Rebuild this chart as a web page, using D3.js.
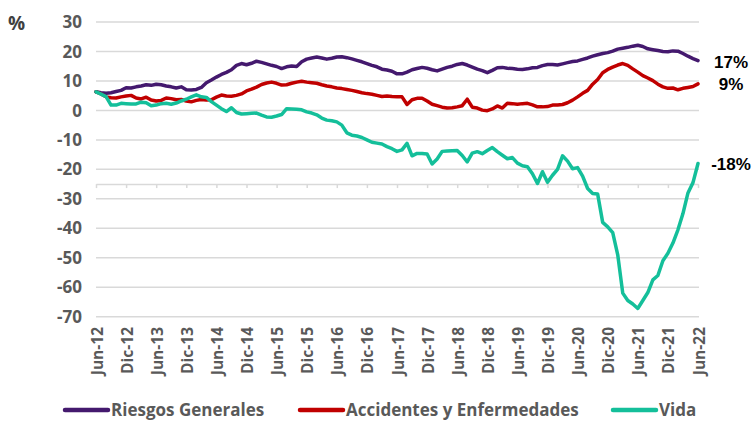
<!DOCTYPE html>
<html>
<head>
<meta charset="utf-8">
<script src="https://cdn.jsdelivr.net/npm/d3@7"></script>
<style>
  body { margin: 0; background: #fff; }
  svg { display: block; }
  .lbl { font-family: "Open Sans", sans-serif; font-weight: 700; fill: #595959; }
  .end { font-family: "Liberation Sans", Arial, sans-serif; font-weight: 700; fill: #000; }
</style>
</head>
<body>
<svg id="chart" width="756" height="422"></svg>
<script>
// meses de jun-12 a jun-22 (121 observaciones)
const monthNames = ["Ene", "Feb", "Mar", "Abr", "May", "Jun", "Jul", "Ago", "Sep", "Oct", "Nov", "Dic"];
const startYear = 2012, startMonth = 5, nMonths = 121;

const tickLabels = ["Jun-12", "Dic-12", "Jun-13", "Dic-13", "Jun-14", "Dic-14", "Jun-15", "Dic-15", "Jun-16", "Dic-16",
  "Jun-17", "Dic-17", "Jun-18", "Dic-18", "Jun-19", "Dic-19", "Jun-20", "Dic-20", "Jun-21", "Dic-21", "Jun-22"];

const yTicks = [30, 20, 10, 0, -10, -20, -30, -40, -50, -60, -70];

const riesgosGenerales = [
  6.3, 6.0, 5.8, 6.0, 6.4, 6.8, 7.7, 7.6, 8.0, 8.3, 8.7, 8.5,
  8.9, 8.7, 8.3, 8.0, 7.6, 8.0, 7.0, 6.9, 7.1, 7.8, 9.4, 10.3,
  11.3, 12.2, 12.9, 13.8, 15.3, 15.9, 15.5, 16.0, 16.7, 16.3, 15.8, 15.3,
  14.9, 14.2, 14.8, 15.1, 14.9, 16.5, 17.4, 17.8, 18.1, 17.8, 17.4, 17.7,
  18.1, 18.2, 17.9, 17.5, 17.0, 16.5, 15.9, 15.3, 14.8, 14.0, 13.7, 13.3,
  12.4, 12.4, 13.0, 13.8, 14.2, 14.6, 14.3, 13.8, 13.4, 14.0, 14.6, 15.0,
  15.6, 15.9, 15.4, 14.7, 14.0, 13.5, 12.8, 13.6, 14.5, 14.6, 14.3, 14.2,
  14.0, 13.9, 14.1, 14.5, 14.6, 15.2, 15.6, 15.6, 15.4, 15.8, 16.2, 16.6,
  16.8, 17.3, 17.8, 18.4, 18.9, 19.3, 19.6, 20.1, 20.8, 21.1, 21.4, 21.8,
  22.1, 21.7, 20.9, 20.6, 20.3, 20.0, 19.9, 20.2, 20.1, 19.3, 18.4, 17.6,
  16.9
];

const accidentesEnfermedades = [
  6.3, 5.6, 4.6, 4.3, 4.2, 4.6, 4.9, 5.1, 4.2, 3.9, 4.5, 3.5,
  3.2, 3.4, 4.2, 4.0, 3.6, 3.7, 3.2, 2.9, 3.4, 3.7, 3.5, 3.6,
  4.5, 5.2, 4.9, 4.8, 5.1, 5.6, 6.6, 7.2, 7.9, 8.8, 9.3, 9.6,
  9.2, 8.6, 8.7, 9.2, 9.6, 9.9, 9.6, 9.4, 9.2, 8.7, 8.3, 8.0,
  7.6, 7.4, 7.1, 6.8, 6.4, 6.0, 5.7, 5.5, 5.1, 4.7, 4.9, 4.7,
  4.6, 4.6, 2.0, 3.6, 4.1, 4.1, 3.2, 2.1, 1.6, 1.1, 0.8, 0.9,
  1.2, 1.6, 3.8, 1.1, 0.8, 0.1, -0.1, 0.5, 1.5, 0.8, 2.4, 2.3,
  2.1, 2.3, 2.4, 1.9, 1.2, 1.2, 1.3, 1.8, 1.8, 2.0, 2.6, 3.5,
  4.6, 5.8, 6.8, 8.9, 10.5, 12.8, 13.9, 14.7, 15.4, 15.9, 15.3, 14.1,
  13.0, 11.8, 11.0, 10.1, 8.9, 8.0, 7.5, 7.6, 7.0, 7.5, 7.8, 8.1,
  9.0
];

const vida = [
  6.3, 5.5, 4.7, 1.8, 1.8, 2.4, 2.3, 2.2, 2.2, 2.8, 2.6, 1.6,
  1.8, 2.3, 2.4, 2.1, 2.5, 3.2, 3.8, 4.6, 5.3, 4.6, 4.4, 3.0,
  1.8, 0.6, -0.4, 0.9, -0.7, -1.2, -1.1, -1.0, -0.9, -1.6, -2.2, -2.3,
  -1.9, -1.4, 0.6, 0.5, 0.4, 0.2, -0.5, -0.9, -1.5, -2.6, -3.3, -3.5,
  -3.9, -5.0, -7.6, -8.4, -8.7, -9.2, -10.0, -10.8, -11.1, -11.4, -12.3, -13.0,
  -13.9, -13.4, -11.2, -15.4, -14.6, -14.6, -14.8, -18.2, -16.5, -13.9, -13.8, -13.7,
  -13.6, -15.3, -17.5, -14.5, -14.0, -14.7, -13.6, -12.6, -14.0, -15.2, -16.4, -16.0,
  -17.9, -18.8, -19.1, -21.5, -24.8, -20.8, -24.4, -22.0, -20.0, -15.4, -17.2, -19.8,
  -19.4, -22.3, -26.5, -28.2, -28.4, -38.0, -39.5, -41.5, -49.0, -62.0, -64.5, -65.7,
  -67.2, -64.5, -61.8, -57.5, -56.0, -51.0, -48.5, -45.0, -40.5, -35.0, -28.0, -24.5,
  -18.0
];

const seriesNames = ["Riesgos Generales", "Accidentes y Enfermedades", "Vida"];
const seriesColors = ["#44196E", "#C00000", "#14BF9A"];
const endLabels = ["17%", "9%", "-18%"];

const categories = d3.range(nMonths).map(i => {
  const t = startMonth + i;
  return monthNames[t % 12] + "-" + String((startYear + Math.floor(t / 12)) % 100).padStart(2, "0");
});

const series = [riesgosGenerales, accidentesEnfermedades, vida].map((values, k) => ({
  name: seriesNames[k],
  color: seriesColors[k],
  label: endLabels[k],
  values: values.map((v, i) => ({ cat: categories[i], v }))
}));

const svg = d3.select("#chart");
const x = d3.scalePoint().domain(categories).range([96, 698]);
const y = d3.scaleLinear().domain([-70, 30]).range([316.7, 22]);

// rejilla horizontal
svg.append("g")
  .selectAll("line")
  .data(yTicks)
  .join("line")
  .attr("x1", 96).attr("x2", 699)
  .attr("y1", d => y(d)).attr("y2", d => y(d))
  .attr("stroke", "#d9d9d9")
  .attr("stroke-width", 1.5);

// eje y
svg.append("g")
  .selectAll("text")
  .data(yTicks)
  .join("text")
  .attr("class", "lbl")
  .attr("x", 82)
  .attr("y", d => y(d))
  .attr("dy", "0.36em")
  .attr("text-anchor", "end")
  .style("font-size", "17px")
  .text(d => d);

svg.append("text")
  .attr("class", "lbl")
  .attr("x", 8).attr("y", 30)
  .style("font-size", "19px")
  .style("fill", "#404040")
  .text("%");

// eje x cruzando en -25
const xAxis = d3.axisBottom(x)
  .tickValues(tickLabels)
  .tickSize(4)
  .tickSizeOuter(0)
  .tickFormat("");
const gx = svg.append("g")
  .attr("transform", `translate(0,${y(-25)})`)
  .call(xAxis);
gx.select(".domain").attr("stroke", "#d9d9d9").attr("stroke-width", 1.5);
gx.selectAll(".tick line").attr("stroke", "#d9d9d9").attr("stroke-width", 1.5);

svg.append("g")
  .selectAll("text")
  .data(tickLabels)
  .join("text")
  .attr("class", "lbl")
  .attr("transform", d => `translate(${x(d) + 1},327) rotate(-90)`)
  .attr("text-anchor", "end")
  .attr("dy", "0.36em")
  .style("font-size", "15.5px")
  .text(d => d);

// líneas
const line = d3.line()
  .x(d => x(d.cat))
  .y(d => y(d.v));

svg.append("g")
  .selectAll("path")
  .data(series)
  .join("path")
  .attr("fill", "none")
  .attr("stroke", d => d.color)
  .attr("stroke-width", 3.5)
  .attr("stroke-linejoin", "round")
  .attr("stroke-linecap", "round")
  .attr("d", d => line(d.values));

// etiquetas finales
const endY = [68, 90, 170];
svg.append("g")
  .selectAll("text")
  .data(series)
  .join("text")
  .attr("class", "end")
  .attr("x", 731)
  .attr("y", (d, i) => endY[i])
  .attr("text-anchor", "middle")
  .style("font-size", "17px")
  .text(d => d.label);

// leyenda
const legendX = [65, 300, 613];
const lg = svg.append("g")
  .selectAll("g")
  .data(series)
  .join("g")
  .attr("transform", (d, i) => `translate(${legendX[i]},410)`);
lg.append("line")
  .attr("x1", 0).attr("x2", 43)
  .attr("stroke", d => d.color)
  .attr("stroke-width", 4.5)
  .attr("stroke-linecap", "round");
lg.append("text")
  .attr("class", "lbl")
  .attr("x", 46)
  .attr("dy", "0.34em")
  .style("font-size", "17px")
  .text(d => d.name);
</script>
</body>
</html>
